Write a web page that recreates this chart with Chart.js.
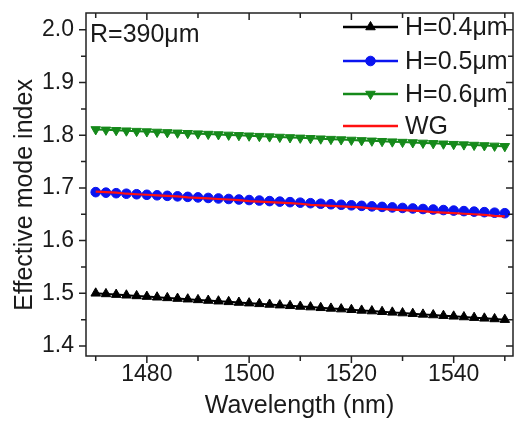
<!DOCTYPE html>
<html><head><meta charset="utf-8">
<script src="https://cdn.jsdelivr.net/npm/chart.js@4/dist/chart.umd.min.js"></script>
<style>html,body{margin:0;padding:0;background:#fff}canvas{display:block}</style>
</head><body>
<canvas id="c" width="514" height="421"></canvas>
<script>
const wavelengths=[1470,1472,1474,1476,1478,1480,1482,1484,1486,1488,1490,1492,1494,1496,1498,1500,1502,1504,1506,1508,1510,1512,1514,1516,1518,1520,1522,1524,1526,1528,1530,1532,1534,1536,1538,1540,1542,1544,1546,1548,1550];
const h04=[1.5000,1.4988,1.4975,1.4963,1.4950,1.4938,1.4925,1.4913,1.4900,1.4888,1.4875,1.4863,1.4850,1.4838,1.4825,1.4813,1.4800,1.4788,1.4775,1.4763,1.4750,1.4738,1.4725,1.4713,1.4700,1.4688,1.4675,1.4663,1.4650,1.4638,1.4625,1.4613,1.4600,1.4588,1.4575,1.4563,1.4550,1.4538,1.4525,1.4513,1.4500];
const h05=[1.692,1.691,1.690,1.689,1.688,1.687,1.686,1.685,1.684,1.683,1.682,1.681,1.680,1.679,1.678,1.677,1.676,1.675,1.674,1.673,1.672,1.671,1.670,1.669,1.668,1.667,1.666,1.665,1.664,1.663,1.662,1.661,1.660,1.659,1.658,1.657,1.656,1.655,1.654,1.653,1.652];
const h06=[1.8110,1.8102,1.8094,1.8086,1.8078,1.8070,1.8062,1.8054,1.8046,1.8038,1.8030,1.8022,1.8014,1.8006,1.7998,1.7990,1.7982,1.7974,1.7966,1.7958,1.7950,1.7942,1.7934,1.7926,1.7918,1.7910,1.7902,1.7894,1.7886,1.7878,1.7870,1.7862,1.7854,1.7846,1.7838,1.7830,1.7822,1.7814,1.7806,1.7798,1.7790];
const wg=[1.693,1.692,1.691,1.689,1.688,1.687,1.686,1.685,1.684,1.682,1.681,1.680,1.679,1.678,1.677,1.675,1.674,1.673,1.672,1.671,1.670,1.668,1.667,1.666,1.665,1.664,1.663,1.661,1.660,1.659,1.658,1.657,1.656,1.654,1.653,1.652,1.651,1.650,1.649,1.647,1.646];
const seriesLabels=['H=0.4\u03bcm','H=0.5\u03bcm','H=0.6\u03bcm','WG'];
const xTicks=[1470,1480,1490,1500,1510,1520,1530,1540,1550];
const xLabeled=[1480,1500,1520,1540];
const yTicks=[1.4,1.45,1.5,1.55,1.6,1.65,1.7,1.75,1.8,1.85,1.9,1.95,2.0];
const yLabeled=[1.4,1.5,1.6,1.7,1.8,1.9,2.0];
const annotationText='R=390\u03bcm';

const FONT='"Liberation Sans", Arial, sans-serif';
const TXT='#1a1a1a';
const pts=a=>wavelengths.map((w,i)=>({x:w,y:a[i]}));
const isLab=(arr,v)=>arr.some(t=>Math.abs(t-v)<1e-6);

const framePlugin={id:'frame',afterDatasetsDraw(chart){
  const {ctx,chartArea:a,scales:{x,y}}=chart;
  ctx.save();ctx.strokeStyle='#222';ctx.lineWidth=1.5;
  ctx.strokeRect(a.left,a.top,a.right-a.left,a.bottom-a.top);
  ctx.beginPath();
  xTicks.forEach(v=>{const p=x.getPixelForValue(v);const L=isLab(xLabeled,v)?7:5;
    ctx.moveTo(p,a.bottom);ctx.lineTo(p,a.bottom+L);
    ctx.moveTo(p,a.top);ctx.lineTo(p,a.top+L);});
  yTicks.forEach(v=>{const p=y.getPixelForValue(v);const L=isLab(yLabeled,v)?7:5;
    ctx.moveTo(a.left,p);ctx.lineTo(a.left-L,p);
    ctx.moveTo(a.right,p);ctx.lineTo(a.right-L,p);});
  ctx.stroke();ctx.restore();
}};

const legendPlugin={id:'customLegend',afterDraw(chart){
  const {ctx}=chart;
  const x0=343,x1=398,tx=405,ys=[27,61,94,126];
  ctx.save();
  chart.data.datasets.forEach((ds,i)=>{
    const yy=ys[i];
    ctx.strokeStyle=ds.borderColor;ctx.fillStyle=ds.borderColor;ctx.lineWidth=ds.borderWidth+0.4;
    ctx.beginPath();ctx.moveTo(x0,yy);ctx.lineTo(x1,yy);ctx.stroke();
    if(ds.pointRadius>0){
      ctx.lineWidth=1;
      Chart.helpers.drawPoint(ctx,{pointStyle:ds.pointStyle,rotation:ds.pointRotation||0,radius:ds.pointRadius,borderWidth:1},(x0+x1)/2,yy);
    }
    ctx.fillStyle=TXT;ctx.font='25px '+FONT;ctx.textBaseline='middle';ctx.textAlign='left';
    ctx.fillText(ds.label,tx,yy+1);
  });
  ctx.font='25px '+FONT;ctx.fillStyle=TXT;ctx.textBaseline='middle';ctx.textAlign='left';
  ctx.fillText(annotationText,90,35);
  ctx.restore();
}};

const mk=(label,data,color,style,rot,r)=>({label,data:pts(data),borderColor:color,backgroundColor:color,
  pointBackgroundColor:color,pointBorderColor:color,borderWidth:2,pointStyle:style,pointRotation:rot,
  pointRadius:r,pointHoverRadius:r,pointBorderWidth:1,tension:0,order:1});

const datasets=[
  mk(seriesLabels[0],h04,'#000000','triangle',0,5.5),
  mk(seriesLabels[1],h05,'#0a14f0','circle',0,4.8),
  mk(seriesLabels[2],h06,'#15891a','triangle',180,5.5),
  Object.assign(mk(seriesLabels[3],wg,'#ff1010','circle',0,0),{borderWidth:2.2,order:0})
];

new Chart(document.getElementById('c'),{
  type:'line',
  data:{datasets},
  options:{
    responsive:false,animation:false,devicePixelRatio:1,
    layout:{autoPadding:false,padding:{top:13,right:1,left:0,bottom:0}},
    plugins:{legend:{display:false},tooltip:{enabled:false}},
    scales:{
      x:{type:'linear',min:1468.1,max:1551.6,
        afterBuildTicks:s=>{s.ticks=xTicks.map(v=>({value:v}));},
        afterFit:s=>{s.height=65;s.paddingLeft=0;s.paddingRight=0;},
        grid:{display:false,drawTicks:false},border:{display:false},
        ticks:{padding:5,autoSkip:false,maxRotation:0,color:TXT,font:{size:23,family:FONT},
          callback:v=>isLab(xLabeled,v)?String(v):''},
        title:{display:true,text:'Wavelength (nm)',color:TXT,font:{size:25,family:FONT},padding:{top:0,bottom:0}}
      },
      y:{type:'linear',min:1.381,max:2.032,
        afterBuildTicks:s=>{s.ticks=yTicks.map(v=>({value:v}));},
        afterFit:s=>{s.width=86;s.paddingTop=0;s.paddingBottom=0;},
        grid:{display:false,drawTicks:false},border:{display:false},
        ticks:{padding:12,autoSkip:false,color:TXT,font:{size:23,family:FONT},
          callback:v=>isLab(yLabeled,v)?v.toFixed(1):''},
        title:{display:true,text:'Effective mode index   ',color:TXT,font:{size:25,family:FONT},padding:{top:10,bottom:0}}
      }
    }
  },
  plugins:[framePlugin,legendPlugin]
});
</script>
</body></html>
